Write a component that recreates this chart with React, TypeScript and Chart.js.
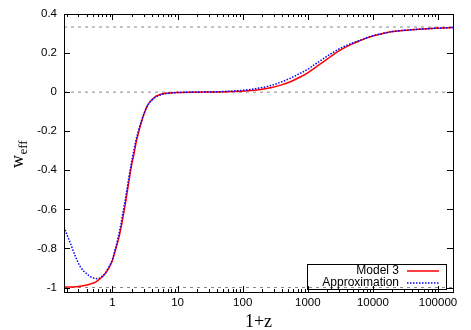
import React, { useEffect, useRef } from 'react';
import { Chart, registerables } from 'chart.js';

Chart.register(...registerables);

// Axis ranges and ticks
const xRange = [0.18, 170000];
const yRange = [-1.023, 0.4];
const xTickValues = [1, 10, 100, 1000, 10000, 100000];
const xTickLabels = ['1', '10', '100', '1000', '10000', '100000'];
const yTickValues = [-1, -0.8, -0.6, -0.4, -0.2, 0, 0.2, 0.4];
const yTickLabels = ['-1', '-0.8', '-0.6', '-0.4', '-0.2', '0', '0.2', '0.4'];
const refLevels = [1 / 3, 0, -1];

// Model 3 (red solid)
const model3X = [0.18, 0.25, 0.32, 0.4, 0.46, 0.55, 0.62, 0.7, 0.78, 0.85, 0.93, 1.0, 1.11, 1.22, 1.33, 1.45, 1.58, 1.78, 2.0, 2.13, 2.3, 2.54, 2.8, 3.03, 3.3, 3.63, 4.0, 4.6, 5.3, 6.2, 7.5, 10, 15, 22, 40, 73, 120, 189, 280, 385, 530, 700, 1000, 1250, 1580, 2000, 2500, 3200, 4570, 6540, 9000, 13200, 20000, 38400, 70000, 112000, 170000];
const model3Y = [-0.998, -0.997, -0.993, -0.987, -0.982, -0.972, -0.96, -0.945, -0.927, -0.908, -0.885, -0.86, -0.808, -0.76, -0.706, -0.64, -0.57, -0.46, -0.36, -0.32, -0.26, -0.2, -0.15, -0.115, -0.082, -0.056, -0.04, -0.022, -0.013, -0.007, -0.004, -0.002, -0.0005, 0.0, 0.001, 0.003, 0.007, 0.014, 0.024, 0.036, 0.052, 0.071, 0.099, 0.122, 0.146, 0.17, 0.193, 0.216, 0.243, 0.265, 0.283, 0.298, 0.31, 0.319, 0.325, 0.328, 0.331];

// Approximation (blue dotted)
const approxX = [0.18, 0.2, 0.226, 0.27, 0.32, 0.36, 0.41, 0.46, 0.52, 0.58, 0.62, 0.7, 0.78, 0.88, 1.0, 1.11, 1.22, 1.33, 1.45, 1.58, 1.78, 2.0, 2.3, 2.54, 2.8, 3.03, 3.3, 3.63, 4.0, 4.6, 5.3, 6.2, 7.5, 10, 15, 22, 40, 73, 120, 189, 280, 385, 530, 700, 1000, 1250, 1580, 2000, 2500, 3200, 4570, 6540, 9000, 13200, 20000, 38400, 70000, 112000, 170000];
const approxY = [-0.69, -0.73, -0.774, -0.842, -0.893, -0.915, -0.932, -0.945, -0.952, -0.955, -0.953, -0.942, -0.925, -0.895, -0.855, -0.8, -0.745, -0.685, -0.615, -0.545, -0.44, -0.345, -0.245, -0.19, -0.145, -0.112, -0.082, -0.058, -0.042, -0.026, -0.016, -0.009, -0.005, -0.002, 0.0, 0.0005, 0.002, 0.006, 0.012, 0.022, 0.035, 0.051, 0.07, 0.09, 0.117, 0.139, 0.162, 0.185, 0.205, 0.225, 0.248, 0.267, 0.284, 0.298, 0.31, 0.319, 0.325, 0.328, 0.331];

const seriesNames = ['Model 3', 'Approximation'];
const SANS = '"Liberation Sans", Arial, Helvetica, sans-serif';
const SERIF = '"Liberation Serif", "Times New Roman", serif';

const framePlugin = {
  id: 'gnuFrame',
  afterDatasetsDraw(chart: any) {
    const ctx = chart.ctx;
    const ca = chart.chartArea;
    const xs = chart.scales.x;
    const ys = chart.scales.y;
    ctx.save();
    ctx.strokeStyle = '#000';
    ctx.lineWidth = 1;
    // frame
    ctx.strokeRect(Math.round(ca.left) + 0.5, Math.round(ca.top) + 0.5, Math.round(ca.right - ca.left), Math.round(ca.bottom - ca.top));
    ctx.beginPath();
    // y ticks, both sides
    for (const v of yTickValues) {
      const py = Math.round(ys.getPixelForValue(v)) + 0.5;
      ctx.moveTo(ca.left, py); ctx.lineTo(ca.left + 6, py);
      ctx.moveTo(ca.right, py); ctx.lineTo(ca.right - 6, py);
    }
    // x ticks, log major + minor, top and bottom
    const d0 = Math.floor(Math.log10(xRange[0]));
    const d1 = Math.ceil(Math.log10(xRange[1]));
    for (let d = d0; d <= d1; d++) {
      for (let k = 1; k <= 9; k++) {
        const v = k * Math.pow(10, d);
        if (v < xRange[0] || v > xRange[1]) continue;
        const len = k === 1 ? 6 : 3;
        const px = Math.round(xs.getPixelForValue(v)) + 0.5;
        ctx.moveTo(px, ca.bottom); ctx.lineTo(px, ca.bottom - len);
        ctx.moveTo(px, ca.top); ctx.lineTo(px, ca.top + len);
      }
    }
    ctx.stroke();

    // x title
    ctx.fillStyle = '#000';
    ctx.font = '18px ' + SERIF;
    ctx.textAlign = 'center';
    ctx.textBaseline = 'alphabetic';
    ctx.fillText('1+z', (ca.left + ca.right) / 2, 327);

    // y title w_eff
    ctx.save();
    ctx.translate(23, 168);
    ctx.rotate(-Math.PI / 2);
    ctx.textAlign = 'left';
    ctx.font = '18px ' + SERIF;
    ctx.fillText('w', 0, 0);
    const ww = ctx.measureText('w').width;
    ctx.font = '13px ' + SERIF;
    ctx.fillText('eff', ww + 0.5, 4);
    ctx.restore();

    // legend
    const bx0 = Math.round(ca.right - 146) + 0.5;
    const bx1 = Math.round(ca.right - 7) + 0.5;
    const by0 = Math.round(ca.bottom - 28) + 0.5;
    const by1 = Math.round(ca.bottom - 3) + 0.5;
    ctx.strokeStyle = '#000';
    ctx.lineWidth = 1;
    ctx.strokeRect(bx0, by0, bx1 - bx0, by1 - by0);
    const rows = [ca.bottom - 21, ca.bottom - 9];
    ctx.font = '12px ' + SANS;
    ctx.textAlign = 'right';
    ctx.textBaseline = 'middle';
    const styles = [
      { color: '#ff0000', dash: [] as number[], width: 1.5 },
      { color: '#0000ff', dash: [1.5, 1.5], width: 1.5 },
    ];
    seriesNames.forEach((name, i) => {
      ctx.fillStyle = '#000';
      ctx.fillText(name, ca.right - 54, rows[i]);
      ctx.beginPath();
      ctx.strokeStyle = styles[i].color;
      ctx.lineWidth = styles[i].width;
      ctx.setLineDash(styles[i].dash);
      ctx.moveTo(ca.right - 46, rows[i]);
      ctx.lineTo(ca.right - 14, rows[i]);
      ctx.stroke();
      ctx.setLineDash([]);
    });
    ctx.restore();
  },
};

export default function App() {
  const ref = useRef<HTMLCanvasElement>(null);
  useEffect(() => {
    if (!ref.current) return;
    const toPts = (xs: number[], ys: number[]) => xs.map((x, i) => ({ x, y: ys[i] }));
    const refSets = refLevels.map((lvl) => ({
      label: 'ref',
      data: [{ x: xRange[0], y: lvl }, { x: xRange[1], y: lvl }],
      borderColor: '#8a8a8a',
      borderWidth: 1,
      borderDash: [3, 4],
      pointRadius: 0,
      order: 3,
    }));
    const chart = new Chart(ref.current, {
      type: 'line',
      data: {
        datasets: [
          {
            label: seriesNames[1],
            data: toPts(approxX, approxY),
            borderColor: '#0000ff',
            borderWidth: 1.5,
            borderDash: [1.5, 1.5],
            pointRadius: 0,
            cubicInterpolationMode: 'monotone',
            order: 0,
          },
          {
            label: seriesNames[0],
            data: toPts(model3X, model3Y),
            borderColor: '#ff0000',
            borderWidth: 1.5,
            pointRadius: 0,
            cubicInterpolationMode: 'monotone',
            order: 1,
          },
          ...refSets,
        ] as any,
      },
      options: {
        animation: false,
        responsive: false,
        layout: { padding: { left: 0, right: 18, top: 14, bottom: 0 } },
        plugins: { legend: { display: false }, tooltip: { enabled: false } },
        scales: {
          x: {
            type: 'logarithmic',
            min: xRange[0],
            max: xRange[1],
            grid: { display: false, drawTicks: false },
            border: { display: false },
            afterBuildTicks: (s: any) => { s.ticks = xTickValues.map((v) => ({ value: v })); },
            afterFit: (s: any) => { s.height = 38; },
            ticks: {
              autoSkip: false,
              maxRotation: 0,
              padding: 4,
              color: '#000',
              font: { family: SANS, size: 11.5 },
              callback: (v: any) => { const i = xTickValues.indexOf(Number(v)); return i >= 0 ? xTickLabels[i] : ''; },
            },
          },
          y: {
            type: 'linear',
            min: yRange[0],
            max: yRange[1],
            grid: { display: false, drawTicks: false },
            border: { display: false },
            afterBuildTicks: (s: any) => { s.ticks = yTickValues.map((v) => ({ value: v })); },
            afterFit: (s: any) => { s.width = 64; },
            ticks: {
              autoSkip: false,
              padding: 7,
              color: '#000',
              font: { family: SANS, size: 11.5 },
              callback: (v: any) => {
                const i = yTickValues.findIndex((t) => Math.abs(t - Number(v)) < 1e-9);
                return i >= 0 ? yTickLabels[i] : '';
              },
            },
          },
        },
      },
      plugins: [framePlugin],
    } as any);
    return () => chart.destroy();
  }, []);
  return (
    <div style={{ position: 'absolute', left: 0, top: 0, width: 471, height: 330, background: '#fff' }}>
      <canvas ref={ref} width={471} height={330} style={{ display: 'block' }} />
    </div>
  );
}
